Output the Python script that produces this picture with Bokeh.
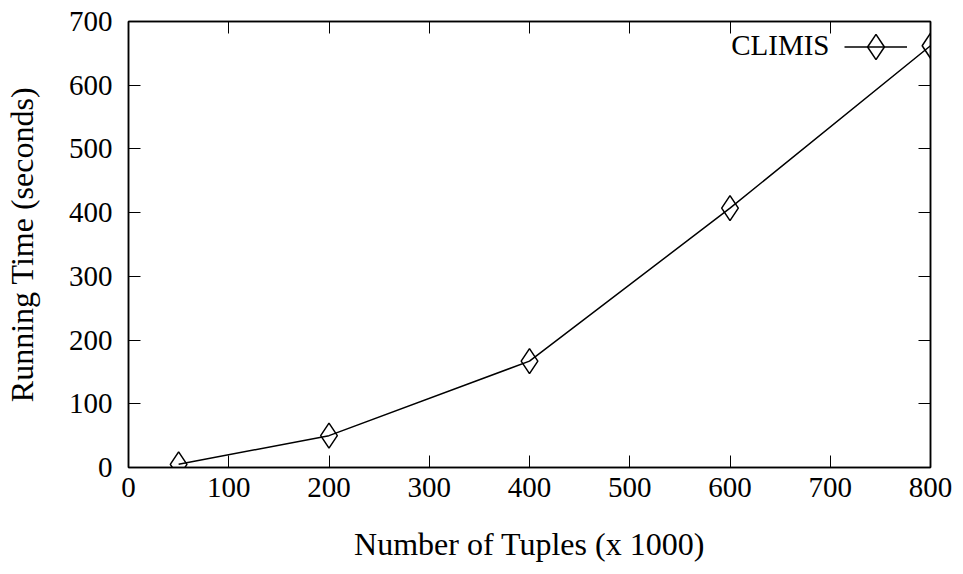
from bokeh.plotting import figure
from bokeh.models import (Range1d, FixedTicker, LinearAxis, Label, Legend, LegendItem)
from bokeh.embed import file_html
from bokeh.resources import INLINE

# Data
tuples_k = [50, 200, 400, 600, 800]
running_time = [5, 50, 167, 407, 662]
series_name = "CLIMIS"
x_ticks = [0, 100, 200, 300, 400, 500, 600, 700, 800]
y_ticks = [0, 100, 200, 300, 400, 500, 600, 700]
x_label = "Number of Tuples (x 1000)"
y_label = "Running Time (seconds)"

FONT = "Liberation Serif"
TICK_SIZE = "29px"
LABEL_SIZE = "32px"

p = figure(width=963, height=574, output_backend="svg", toolbar_location=None,
           x_range=Range1d(0, 800), y_range=Range1d(0, 700),
           min_border_left=126, min_border_right=33, min_border_top=21,
           min_border_bottom=107)
p.background_fill_color = "white"
p.border_fill_color = "white"
p.outline_line_color = "black"
p.outline_line_width = 1.5
p.xgrid.visible = False
p.ygrid.visible = False

def style_axis(ax, ticks, labels=True):
    ax.ticker = FixedTicker(ticks=ticks)
    ax.major_tick_in = 12
    ax.major_tick_out = 0
    ax.minor_tick_in = 0
    ax.minor_tick_out = 0
    ax.axis_line_color = "black"
    ax.axis_line_width = 1.5
    ax.major_tick_line_color = "black"
    ax.major_tick_line_width = 1
    ax.major_label_text_font = FONT
    ax.major_label_text_font_size = TICK_SIZE
    ax.major_label_text_color = "black"
    ax.axis_label_text_font = FONT
    ax.axis_label_text_font_size = LABEL_SIZE
    ax.axis_label_text_font_style = "normal"
    ax.axis_label_text_color = "black"
    if not labels:
        ax.major_label_text_font_size = "0px"
        ax.major_label_text_alpha = 0

xa = p.xaxis[0]
ya = p.yaxis[0]
style_axis(xa, x_ticks)
style_axis(ya, y_ticks)
xa.axis_label = x_label
ya.axis_label = y_label
xa.major_label_standoff = 10
xa.axis_label_standoff = 26
ya.major_label_standoff = 16
ya.axis_label_standoff = 26

top = LinearAxis()
style_axis(top, x_ticks, labels=False)
p.add_layout(top, "above")
right = LinearAxis()
style_axis(right, y_ticks, labels=False)
p.add_layout(right, "right")

line_r = p.line(tuples_k, running_time, line_color="black", line_width=1.5)
mark_r = p.scatter(tuples_k, running_time, marker="diamond", size=25,
                   fill_color=None, line_color="black", line_width=1.5)

# legend sample (glyph area 63x63 so the marker is drawn at size ~25)
legend = Legend(items=[LegendItem(label=" ", renderers=[line_r, mark_r])],
                location=(716, 389), glyph_width=63, glyph_height=63,
                label_width=0, label_height=63, label_standoff=0,
                padding=0, margin=0, spacing=0,
                border_line_color=None, background_fill_alpha=0,
                label_text_font_size="1px")
p.add_layout(legend, "center")

p.add_layout(Label(x=701, y=407, x_units="screen", y_units="screen",
                   text=series_name, text_align="right", text_baseline="bottom",
                   text_font=FONT, text_font_size=TICK_SIZE, text_color="black"))

open("out.html", "w").write(file_html(p, INLINE))
